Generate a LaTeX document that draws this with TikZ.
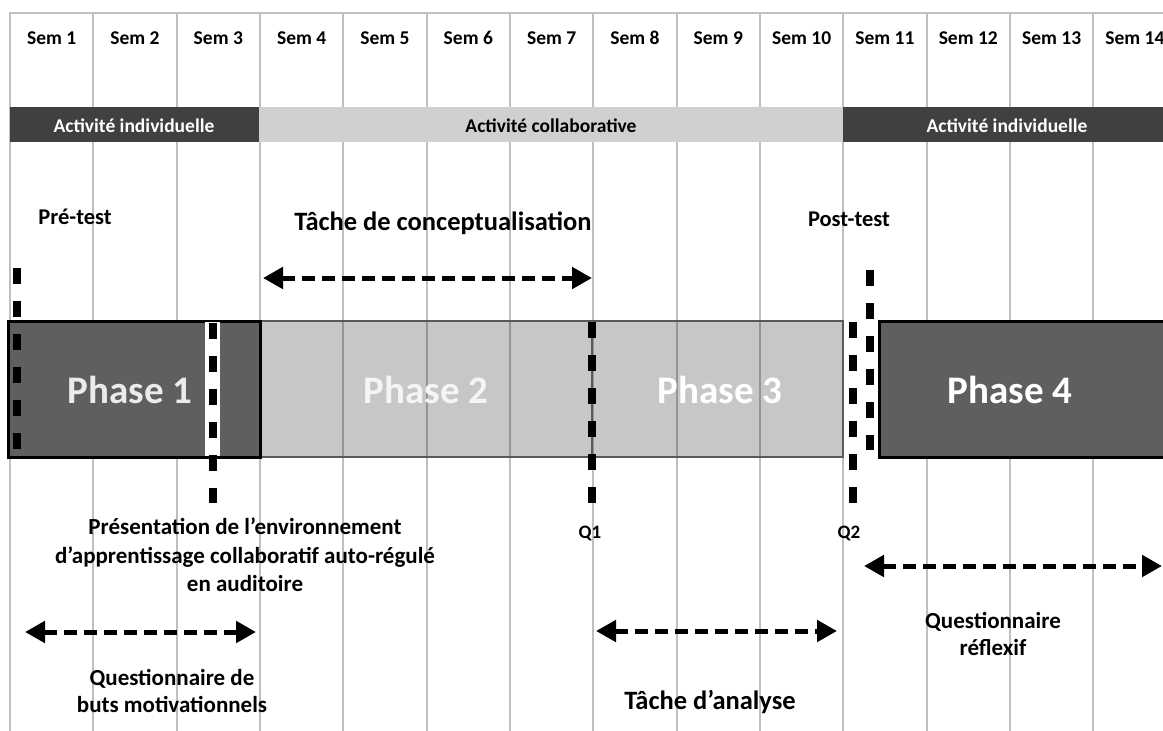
\documentclass[tikz,border=0pt]{standalone}
\usepackage{fontspec}
\setmainfont{Carlito}
\usetikzlibrary{arrows.meta}
\definecolor{banddark}{HTML}{404040}
\definecolor{bandlight}{HTML}{D0D0D0}
\definecolor{phasedark}{HTML}{5F5F5F}
\definecolor{gridgray}{HTML}{BFBFBF}

\begin{document}
\begin{tikzpicture}[x=1pt, y=-1pt,
    gridline/.style={draw=gridgray, line width=2pt},
    cutline/.style={draw=black, line width=8pt, dash pattern=on 16pt off 17pt},
    phasetext/.style={font=\fontsize{39}{39}\selectfont\bfseries, anchor=base},
    infotext/.style={font=\fontsize{23}{28.5}\selectfont\bfseries, align=center}]
    \useasboundingbox (0,0) rectangle (1163,731);
    \clip (0,0) rectangle (1163,731);

    % weeks
    \foreach \i in {0,...,13}
        \draw[gridline] ({10+83.33*\i},13) -- ({10+83.33*\i},731);
    \draw[gridline] (9,13) -- (1163,13);

    \begin{scope}[every node/.style={font=\fontsize{19.5}{19.5}\selectfont\bfseries, anchor=base}]
        \foreach \i in {1,...,14}
            \node (sem\i) at ({10+83.33*(\i-0.5)},44) {Sem \i};
    \end{scope}

    % activity bands
    \fill[banddark] (10,107) rectangle (259,142);
    \fill[bandlight] (259,107) rectangle (843,142);
    \fill[banddark] (843,107) rectangle (1175,142);
    \begin{scope}[every node/.style={font=\fontsize{19.5}{19.5}\selectfont\bfseries, anchor=base}]
        \node[text=white] (act1) at (134,132) {Activité individuelle};
        \node (act2) at (551,132) {Activité collaborative};
        \node[text=white] (act3) at (1007,132) {Activité individuelle};
    \end{scope}

    % phases
    \filldraw[fill=black, fill opacity=0.22, draw=black!65, line width=2.5pt] (260,321) rectangle (592,457);
    \filldraw[fill=black, fill opacity=0.22, draw=black!65, line width=2.5pt] (592,321) rectangle (843,457);
    \filldraw[fill=phasedark, draw=black, line width=3pt] (8,321) rectangle (260,457);
    \filldraw[fill=phasedark, draw=black, line width=3pt] (879,321) rectangle (1175,457);

    \node[phasetext, text=black!8] (ph1) at (130,403) {Phase 1};
    \node[phasetext, text=black!4] (ph2) at (426,403) {Phase 2};
    \node[phasetext, text=white] (ph3) at (720,403) {Phase 3};
    \node[phasetext, text=white] (ph4) at (1010,403) {Phase 4};

    % measurement points
    \coordinate (pre1) at (17,268);
    \coordinate (pre2) at (17,450);
    \coordinate (pres1) at (212.5,323);
    \coordinate (pres2) at (212.5,503);
    \coordinate (q1top) at (592,322);
    \coordinate (q1bot) at (592,503);
    \coordinate (post1) at (870,270);
    \coordinate (post2) at (870,450);
    \coordinate (q2top) at (853,322);
    \coordinate (q2bot) at (853,503);

    \draw[white, line width=15pt] (212.5,322) -- (212.5,456);
    \draw[cutline] (pre1) -- (pre2);
    \draw[cutline] (pres1) -- (pres2);
    \draw[cutline] (q1top) -- (q1bot);
    \draw[cutline] (post1) -- (post2);
    \draw[cutline] (q2top) -- (q2bot);

    % durations
    \coordinate (conc1) at (263,278);
    \coordinate (conc2) at (592,278);
    \coordinate (motiv1) at (25,632);
    \coordinate (motiv2) at (256,632);
    \coordinate (anal1) at (596,631);
    \coordinate (anal2) at (837,631);
    \coordinate (refl1) at (864,566);
    \coordinate (refl2) at (1162,566);

    \begin{scope}[every edge/.style={draw, line width=5pt, dash pattern=on 13pt off 7pt,
            {Triangle[length=20pt,width=21pt]}-{Triangle[length=20pt,width=21pt]}}]
        \path (conc1) edge (conc2);
        \path (motiv1) edge (motiv2);
        \path (anal1) edge (anal2);
        \path (refl1) edge (refl2);
    \end{scope}

    % texts
    \begin{scope}[every node/.style={font=\fontsize{22.5}{22.5}\selectfont\bfseries, anchor=base}]
        \node (pretest) at (75,224) {Pré-test};
        \node (posttest) at (849,226) {Post-test};
    \end{scope}
    \begin{scope}[every node/.style={font=\fontsize{26.5}{26.5}\selectfont\bfseries, anchor=base}]
        \node (concept) at (443,230) {Tâche de conceptualisation};
        \node (analyse) at (710,709) {Tâche d’analyse};
    \end{scope}
    \begin{scope}[every node/.style={font=\fontsize{19}{19}\selectfont\bfseries, anchor=base}]
        \node (q1) at (590,538) {Q1};
        \node (q2) at (849,538) {Q2};
    \end{scope}
    \node[infotext] (presentation) at (245,555) {Présentation de l’environnement\\d’apprentissage collaboratif auto-régulé\\en auditoire};
    \node[infotext, font=\fontsize{23}{27}\selectfont\bfseries] (motiv) at (172,691) {Questionnaire de\\buts motivationnels};
    \node[infotext, font=\fontsize{23}{27}\selectfont\bfseries] (reflexif) at (993,634) {Questionnaire\\réflexif};
\end{tikzpicture}
\end{document}
